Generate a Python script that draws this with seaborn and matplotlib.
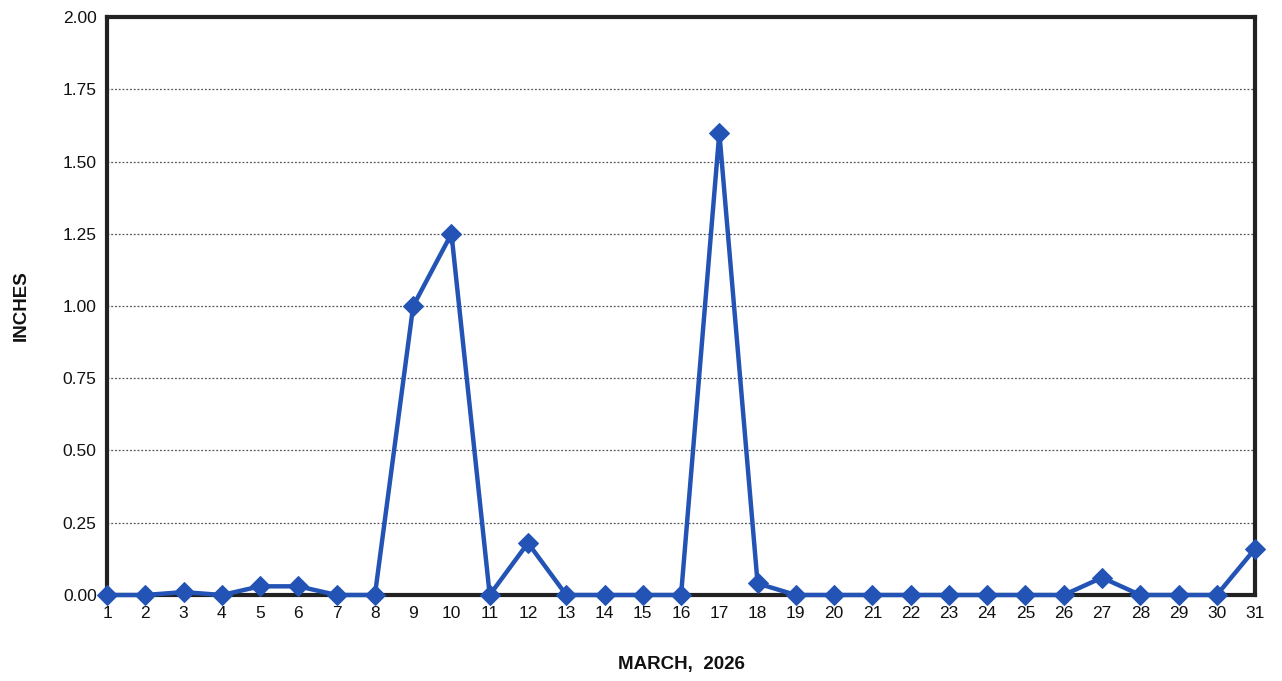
import numpy as np
import pandas as pd
import matplotlib
matplotlib.use("Agg")
import matplotlib.pyplot as plt
import seaborn as sns

days = list(range(1, 32))
inches = [0.00, 0.00, 0.01, 0.00, 0.03, 0.03, 0.00, 0.00, 1.00, 1.25,
          0.00, 0.18, 0.00, 0.00, 0.00, 0.00, 1.60, 0.04, 0.00, 0.00,
          0.00, 0.00, 0.00, 0.00, 0.00, 0.00, 0.06, 0.00, 0.00, 0.00,
          0.16]
y_ticks = [0.0, 0.25, 0.5, 0.75, 1.0, 1.25, 1.5, 1.75, 2.0]

df = pd.DataFrame({'day': days, 'inches': inches})

sns.set_style('white')
plt.rcParams['font.family'] = ['Liberation Sans', 'DejaVu Sans']

fig = plt.figure(figsize=(12.82, 6.81), dpi=100)
ax = fig.add_axes([0.0835, 0.1263, 0.8955, 0.8487])

for t in y_ticks[1:-1]:
    ax.axhline(t, color='#555555', linestyle=(0, (1.5, 1.5)), linewidth=0.9, zorder=1)

sns.lineplot(data=df, x='day', y='inches', ax=ax, color='#2354b5',
             linewidth=3.2, marker='D', markersize=10,
             markeredgecolor='#2354b5', zorder=3, clip_on=False)

ax.set_xlim(1, 31)
ax.set_ylim(0, 2.0)
ax.set_xticks(days)
ax.set_yticks(y_ticks)
ax.set_yticklabels([f'{t:.2f}' for t in y_ticks])
ax.tick_params(axis='both', labelsize=12.5, length=4, width=1.2, colors='#111111',
               direction='out')
ax.tick_params(axis='x', pad=4)

for s in ax.spines.values():
    s.set_color('#222222')
    s.set_linewidth(3)

ax.set_xlabel('MARCH,  2026', fontsize=13.5, fontweight='bold', labelpad=25,
              color='#111111')
ax.set_ylabel('INCHES', fontsize=13.5, fontweight='bold', labelpad=24,
              color='#111111')

plt.savefig('out.png', dpi=100)
